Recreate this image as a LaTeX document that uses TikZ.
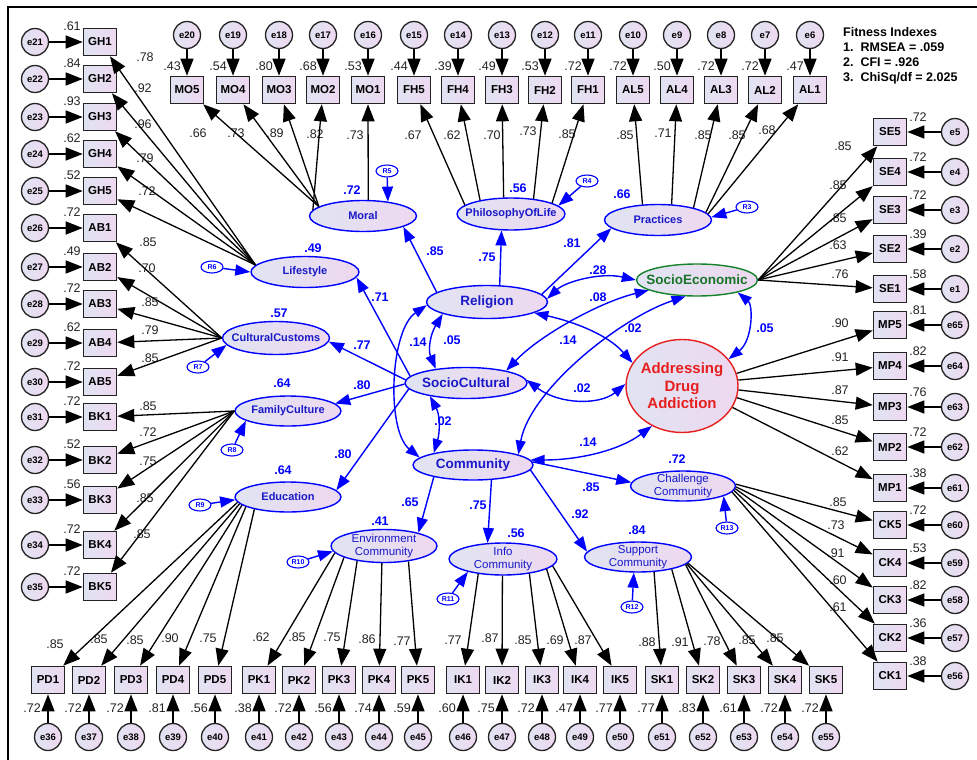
\documentclass[tikz,border=0pt]{standalone}
\usepackage{fontspec}
\setmainfont{Liberation Sans}
\usetikzlibrary{shapes.geometric,arrows.meta}
\definecolor{boxL}{RGB}{224,228,242}
\definecolor{boxR}{RGB}{238,216,240}
\definecolor{ink}{RGB}{35,35,35}
\definecolor{pblue}{RGB}{0,0,255}
\definecolor{tblue}{RGB}{25,25,200}
\definecolor{pgreen}{RGB}{20,130,40}
\definecolor{tgreen}{RGB}{25,115,40}
\definecolor{pred}{RGB}{230,30,30}
\begin{document}
\begin{tikzpicture}[x=1pt,y=-1pt,
  obs/.style={draw=ink, line width=1.6pt, left color=boxL, right color=boxR, minimum width=33pt, minimum height=27pt, inner sep=0pt, font=\fontsize{11.5}{12}\selectfont\bfseries},
  err/.style={circle, draw=ink, line width=1.3pt, left color=boxL, right color=boxR, minimum size=27pt, inner sep=0pt, font=\fontsize{9.5}{10}\selectfont\bfseries},
  lat/.style={ellipse, draw=pblue, line width=1.4pt, left color=boxL, right color=boxR, inner sep=0pt},
  ltxt/.style={text=tblue, font=\fontsize{11}{12}\selectfont\bfseries, inner sep=0pt},
  btxt/.style={text=tblue, font=\fontsize{13.5}{15}\selectfont\bfseries, inner sep=0pt},
  ctxt/.style={text=tblue, font=\fontsize{11.5}{12.5}\selectfont, align=center, inner sep=0pt},
  res/.style={ellipse, draw=pblue, line width=1.1pt, fill=white, minimum width=22pt, minimum height=12pt, inner sep=0pt, text=pblue, font=\fontsize{7}{7}\selectfont\bfseries},
  blk/.style={draw=black, line width=1.3pt, -{Triangle[length=17pt,width=13pt]}},
  blu/.style={draw=pblue, line width=1.4pt, -{Triangle[length=15pt,width=11pt]}},
  cov/.style={draw=pblue, line width=1.4pt, {Triangle[length=14pt,width=10pt]}-{Triangle[length=14pt,width=10pt]}},
  num/.style={font=\fontsize{12.5}{12.5}\selectfont, text=ink, inner sep=0pt},
  bnum/.style={font=\fontsize{12.5}{13}\selectfont\bfseries, text=pblue, inner sep=0pt},
]
\useasboundingbox (0,0) rectangle (977,760);
\fill[white] (0,0) rectangle (977,760);
\draw[line width=1.8pt] (8,760) -- (8,7) -- (977,7);

% ---------- top row
\foreach \nm/\px/\en/\ev/\lv/\lx/\ly in {
MO5/187/e20/.43/.66/198/133, MO4/233/e19/.54/.73/236/133, MO3/279/e18/.80/.89/275/133,
MO2/323/e17/.68/.82/315/134, MO1/368/e16/.53/.73/355/135, FH5/414/e15/.44/.67/413/135,
FH4/458/e14/.39/.62/452/135, FH3/502/e13/.49/.70/492/135, FH2/545/e12/.53/.73/528/131,
FH1/588/e11/.72/.85/567/134, AL5/633/e10/.72/.85/625/135, AL4/677/e9/.50/.71/663/133,
AL3/721/e8/.72/.85/703/135, AL2/765/e7/.72/.85/737/135, AL1/810/e6/.47/.68/767/130}{
  \node[obs] (\nm) at (\px,90) {\nm};
  \node[err] (\en) at (\px,35) {\en};
  \draw[blk] (\en) -- (\nm);
  \node[num,anchor=east] (v\nm) at (\px-6,66) {\ev};
  \node[num] (w\nm) at (\lx,\ly) {\lv};
}

% ---------- left column
\foreach \nm/\py/\en/\ev/\lv/\lx/\ly in {
GH1/42/e21/.61/.78/145/57, GH2/79/e22/.84/.92/143/88, GH3/117/e23/.93/.96/143/124,
GH4/154/e24/.62/.79/145/158, GH5/191/e25/.52/.72/147/191, AB1/228/e26/.72/.85/148/242,
AB2/267/e27/.49/.70/147/268, AB3/304/e28/.72/.85/150/302, AB4/343/e29/.62/.79/150/330,
AB5/382/e30/.72/.85/150/358, BK1/417/e31/.72/.85/148/406, BK2/460/e32/.52/.72/148/432,
BK3/500/e33/.56/.75/148/461, BK4/545/e34/.72/.85/145/498, BK5/587/e35/.72/.85/142/534}{
  \node[obs] (\nm) at (100,\py) {\nm};
  \node[err] (\en) at (35,\py) {\en};
  \draw[blk] (\en) -- (\nm);
  \node[num] (v\nm) at (72,\py-16) {\ev};
  \node[num] (w\nm) at (\lx,\ly) {\lv};
}

% ---------- right column
\foreach \nm/\py/\en/\ev/\lv/\lx/\ly in {
SE5/132/e5/.72/.85/843/146, SE4/172/e4/.72/.85/838/185, SE3/210/e3/.72/.85/838/218,
SE2/249/e2/.39/.63/838/245, SE1/289/e1/.58/.76/840/274, MP5/325/e65/.81/.90/840/323,
MP4/366/e64/.82/.91/840/357, MP3/407/e63/.76/.87/840/390, MP2/447/e62/.72/.85/840/420,
MP1/488/e61/.38/.62/840/451, CK5/525/e60/.72/.85/838/502, CK4/563/e59/.53/.73/836/525,
CK3/600/e58/.82/.91/836/553, CK2/638/e57/.36/.60/838/580, CK1/676/e56/.38/.61/838/607}{
  \node[obs] (\nm) at (890,\py) {\nm};
  \node[err] (\en) at (955,\py) {\en};
  \draw[blk] (\en) -- (\nm);
  \node[num] (v\nm) at (918,\py-15) {\ev};
  \node[num] (w\nm) at (\lx,\ly) {\lv};
}

% ---------- bottom row
\foreach \nm/\px/\en/\ev/\lv/\lx/\ly in {
PD1/48/e36/.72/.85/55/644, PD2/89/e37/.72/.85/99/639, PD3/131/e38/.72/.85/135/640,
PD4/173/e39/.81/.90/170/638, PD5/215/e40/.56/.75/208/638, PK1/259/e41/.38/.62/261/637,
PK2/299/e42/.72/.85/297/637, PK3/339/e43/.56/.75/332/637, PK4/379/e44/.74/.86/367/639,
PK5/418/e45/.59/.77/402/641, IK1/463/e46/.60/.77/453/640, IK2/502/e47/.75/.87/490/638,
IK3/542/e48/.72/.85/523/640, IK4/580/e49/.47/.69/555/640, IK5/620/e50/.77/.87/583/640,
SK1/662/e51/.77/.88/647/642, SK2/703/e52/.83/.91/680/642, SK3/744/e53/.61/.78/712/641,
SK4/785/e54/.72/.85/747/640, SK5/826/e55/.72/.85/775/638}{
  \node[obs] (\nm) at (\px,680) {\nm};
  \node[err] (\en) at (\px,737) {\en};
  \draw[blk] (\en) -- (\nm);
  \node[num,anchor=east] (v\nm) at (\px-7,708) {\ev};
  \node[num] (w\nm) at (\lx,\ly) {\lv};
}

% ---------- latent variables
\node[lat, minimum width=107pt, minimum height=31pt, label={[ltxt]center:Moral}] (Moral) at (363,216) {};
\node[lat, minimum width=108pt, minimum height=32pt, label={[ltxt]center:PhilosophyOfLife}] (PhilosophyOfLife) at (511,214) {};
\node[lat, minimum width=107pt, minimum height=31pt, label={[ltxt]center:Practices}] (Practices) at (658,220) {};
\node[lat, minimum width=108pt, minimum height=31pt, label={[ltxt]center:Lifestyle}] (Lifestyle) at (305,272) {};
\node[lat, minimum width=107pt, minimum height=33pt, label={[ltxt]center:CulturalCustoms}] (CulturalCustoms) at (276,338) {};
\node[lat, minimum width=106pt, minimum height=30pt, label={[ltxt]center:FamilyCulture}] (FamilyCulture) at (288,411) {};
\node[lat, minimum width=106pt, minimum height=30pt, label={[ltxt]center:Education}] (Education) at (288,497) {};
\node[lat, minimum width=121pt, minimum height=33pt, label={[btxt]center:Religion}] (Religion) at (487,302) {};
\node[lat, minimum width=122pt, minimum height=31pt, label={[btxt]center:SocioCultural}] (SocioCultural) at (466,383) {};
\node[lat, minimum width=120pt, minimum height=30pt, label={[btxt]center:Community}] (Community) at (473,465) {};
\node[lat, draw=pgreen, minimum width=121pt, minimum height=32pt, label={[btxt,text=tgreen]center:SocioEconomic}] (SocioEconomic) at (697,280) {};
\node[lat, draw=pred, minimum width=112pt, minimum height=93pt, label={[text=pred, font=\fontsize{15}{17.5}\selectfont\bfseries, align=center, inner sep=0pt]center:Addressing\\Drug\\Addiction}] (ADA) at (682,386) {};
\node[lat, minimum width=105pt, minimum height=30pt, label={[ctxt]center:Challenge\\Community}] (ChallengeCommunity) at (683,486) {};
\node[lat, minimum width=106pt, minimum height=33pt, label={[ctxt]center:Environment\\Community}] (EnvironmentCommunity) at (384,546) {};
\node[lat, minimum width=108pt, minimum height=32pt, label={[ctxt]center:Info\\Community}] (InfoCommunity) at (503,559) {};
\node[lat, minimum width=107pt, minimum height=30pt, label={[ctxt]center:Support\\Community}] (SupportCommunity) at (638,557) {};

% ---------- loadings (latent -> indicator)
\foreach \tg/\a in {MO5/168,MO4/168,MO3/168,MO2/173,MO1/72} \draw[blk] (Moral.\a) -- (\tg);
\foreach \tg/\a in {FH5/169,FH4/156,FH3/114,FH2/34,FH1/15} \draw[blk] (PhilosophyOfLife.\a) -- (\tg);
\foreach \tg/\a in {AL5/135,AL4/49,AL3/19,AL2/9,AL1/7} \draw[blk] (Practices.\a) -- (\tg);
\foreach \tg in {GH1,GH2,GH3,GH4,GH5} \draw[blk] (Lifestyle.172) -- (\tg);
\foreach \tg in {AB1,AB2,AB3,AB4,AB5} \draw[blk] (CulturalCustoms.west) -- (\tg);
\foreach \tg in {BK1,BK2,BK3,BK4,BK5} \draw[blk] (FamilyCulture.west) -- (\tg);
\foreach \tg/\a in {PD1/186,PD2/188,PD3/190,PD4/193,PD5/200} \draw[blk] (Education.\a) -- (\tg);
\foreach \tg/\a in {PK1/188,PK2/196,PK3/209,PK4/263,PK5/328} \draw[blk] (EnvironmentCommunity.\a) -- (\tg);
\foreach \tg/\a in {IK1/211,IK2/268,IK3/331,IK4/347,IK5/352} \draw[blk] (InfoCommunity.\a) -- (\tg);
\foreach \tg/\a in {SK1/317,SK2/340,SK3/351,SK4/352,SK5/353} \draw[blk] (SupportCommunity.\a) -- (\tg);
\foreach \tg/\a in {CK5/2,CK4/359,CK3/357,CK2/355,CK1/353} \draw[blk] (ChallengeCommunity.\a) -- (\tg);
\foreach \tg in {SE5,SE4,SE3,SE2,SE1} \draw[blk] (SocioEconomic.east) -- (\tg);
\foreach \tg/\a in {MP5/13,MP4/6,MP3/356,MP2/348,MP1/337} \draw[blk] (ADA.\a) -- (\tg);

% ---------- residuals
\node[res] (R5) at (387,171) {R5};
\node[res] (R4) at (587,181) {R4};
\node[res] (R3) at (747,207) {R3};
\node[res] (R6) at (212,267) {R6};
\node[res] (R7) at (198,367) {R7};
\node[res] (R8) at (232,450) {R8};
\node[res] (R9) at (200,505) {R9};
\node[res] (R10) at (298,562) {R10};
\node[res] (R11) at (448,599) {R11};
\node[res] (R12) at (632,607) {R12};
\node[res] (R13) at (727,528) {R13};
\draw[blu] (R5) -- (Moral.30);
\draw[blu] (R4) -- (PhilosophyOfLife.10);
\draw[blu] (R3) -- (Practices.3);
\draw[blu] (R6) -- (Lifestyle.180);
\draw[blu] (R7) -- (CulturalCustoms.188);
\draw[blu] (R8) -- (FamilyCulture.193);
\draw[blu] (R9) -- (Education.183);
\draw[blu] (R10) -- (EnvironmentCommunity.186);
\draw[blu] (R11) -- (InfoCommunity.200);
\draw[blu] (R12) -- (SupportCommunity.255);
\draw[blu] (R13) -- (ChallengeCommunity.346);

% ---------- structural paths
\draw[blu] (Religion.169) -- (Moral.345);
\draw[blu] (Religion.53) -- (PhilosophyOfLife.240);
\draw[blu] (Religion.8) -- (Practices.190);
\draw[blu] (SocioCultural.173) -- (Lifestyle.354);
\draw[blu] (SocioCultural.177) -- (CulturalCustoms.356);
\draw[blu] (SocioCultural.181) -- (FamilyCulture.9);
\draw[blu] (SocioCultural.186) -- (Education.8);
\draw[blu] (Community.197) -- (EnvironmentCommunity.21);
\draw[blu] (Community.321) -- (InfoCommunity.134);
\draw[blu] (Community.355) -- (SupportCommunity.174);
\draw[blu] (Community.3) -- (ChallengeCommunity.176);

% ---------- covariances
\draw[cov] (Religion.183) .. controls (390,330) and (386,430) .. (Community.172);
\draw[cov] (Religion.195) .. controls (430,335) and (428,350) .. (SocioCultural.155);
\draw[cov] (SocioCultural.200) .. controls (440,415) and (440,432) .. (Community.163);
\draw[cov] (Religion.3) .. controls (565,282) and (600,272) .. (SocioEconomic.west);
\draw[cov] (SocioEconomic.192) .. controls (600,302) and (540,335) .. (SocioCultural.17);
\draw[cov] (SocioEconomic.235) .. controls (620,318) and (530,390) .. (Community.13);
\draw[cov] (Religion.347) .. controls (575,322) and (608,335) .. (ADA.155);
\draw[cov] (SocioCultural.3) .. controls (560,405) and (600,405) .. (ADA.178);
\draw[cov] (Community.5) .. controls (580,460) and (620,450) .. (ADA.233);
\draw[cov] (SocioEconomic.343) .. controls (753,305) and (753,340) .. (ADA.30);

% ---------- blue labels
\node[bnum] (c1) at (598,270) {.28};
\node[bnum] (c2) at (598,297) {.08};
\node[bnum] (c3) at (633,328) {.02};
\node[bnum] (c4) at (568,340) {.14};
\node[bnum] (c5) at (582,388) {.02};
\node[bnum] (c6) at (588,442) {.14};
\node[bnum] (c7) at (765,328) {.05};
\node[bnum] (c8) at (418,342) {.14};
\node[bnum] (c9) at (452,340) {.05};
\node[bnum] (c10) at (443,421) {.02};
\node[bnum] (s1) at (380,297) {.71};
\node[bnum] (s2) at (362,345) {.77};
\node[bnum] (s3) at (362,385) {.80};
\node[bnum] (s4) at (343,454) {.80};
\node[bnum] (s5) at (435,251) {.85};
\node[bnum] (s6) at (487,257) {.75};
\node[bnum] (s7) at (572,243) {.81};
\node[bnum] (s8) at (410,502) {.65};
\node[bnum] (s9) at (478,505) {.75};
\node[bnum] (s10) at (580,514) {.92};
\node[bnum] (s11) at (591,487) {.85};
\node[bnum] (q1) at (352,190) {.72};
\node[bnum] (q2) at (518,188) {.56};
\node[bnum] (q3) at (622,194) {.66};
\node[bnum] (q4) at (313,248) {.49};
\node[bnum] (q5) at (279,313) {.57};
\node[bnum] (q6) at (282,383) {.64};
\node[bnum] (q7) at (283,470) {.64};
\node[bnum] (q8) at (677,459) {.72};
\node[bnum] (q9) at (380,521) {.41};
\node[bnum] (q10) at (516,533) {.56};
\node[bnum] (q11) at (637,530) {.84};

% ---------- fit indexes
\node[anchor=north west, font=\fontsize{12.5}{15}\selectfont\bfseries, align=left, inner sep=0pt] (fit) at (843,27) {Fitness Indexes\\1.~~RMSEA = .059\\2.~~CFI = .926\\3.~~ChiSq/df = 2.025};
\end{tikzpicture}
\end{document}
